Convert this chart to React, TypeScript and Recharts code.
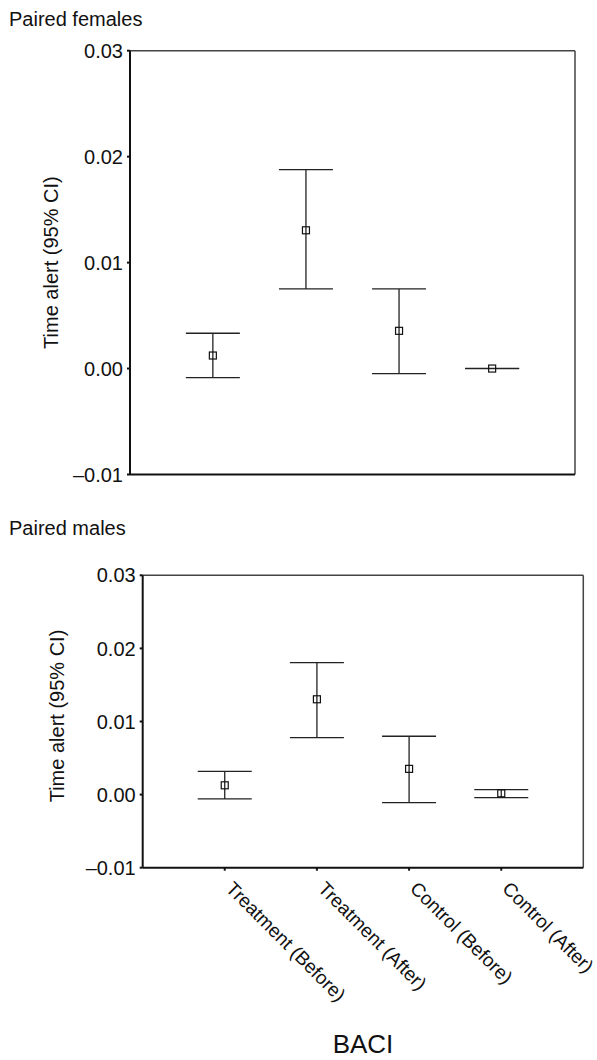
import React from 'react';
import { ComposedChart, Scatter, ErrorBar, XAxis, YAxis, ReferenceLine } from 'recharts';

const categories = ['Treatment (Before)', 'Treatment (After)', 'Control (Before)', 'Control (After)'];
const categoryPositions = [1, 2, 3, 4];
const yTicks = [-0.01, 0, 0.01, 0.02, 0.03];

const femalesMean = [0.00123, 0.01305, 0.00356, 0.0];
const femalesLower = [-0.00085, 0.00752, -0.00047, -0.00001];
const femalesUpper = [0.00333, 0.01877, 0.00752, 0.00001];

const malesMean = [0.00127, 0.01304, 0.00352, 0.00018];
const malesLower = [-0.00059, 0.0078, -0.00109, -0.00041];
const malesUpper = [0.00319, 0.01806, 0.00798, 0.00068];

const FONT = '"Liberation Sans", Arial, Helvetica, sans-serif';
const X_DOMAIN: [number, number] = [0.11, 4.89];
const Y_DOMAIN: [number, number] = [-0.01, 0.03];

const buildRows = (mean: number[], lower: number[], upper: number[]) =>
  categoryPositions.map((x, i) => ({
    x,
    y: mean[i],
    err: [mean[i] - lower[i], upper[i] - mean[i]],
  }));

const femalesRows = buildRows(femalesMean, femalesLower, femalesUpper);
const malesRows = buildRows(malesMean, malesLower, malesUpper);

const fmtY = (v: number) => {
  if (Math.abs(v) < 1e-9) return '0.00';
  if (v < 0) return '\u2013' + Math.abs(v).toFixed(2);
  return v.toFixed(2);
};

const Square = (props: any) => {
  const { cx, cy } = props;
  if (cx == null || cy == null) return null;
  return <rect x={cx - 3.5} y={cy - 3.5} width={7} height={7} fill="none" stroke="#111" strokeWidth={1.2} />;
};

const RotatedTick = (props: any) => {
  const { x, y, payload } = props;
  const label = categories[Math.round(payload.value) - 1];
  const ty = y + 17;
  return (
    <text
      x={x}
      y={ty}
      transform={`rotate(45 ${x} ${ty})`}
      textAnchor="start"
      fontSize={19}
      fontFamily={FONT}
      fill="#111"
    >
      {label}
    </text>
  );
};

type PanelProps = {
  rows: any[];
  height: number;
  margin: { top: number; right: number; bottom: number; left: number };
  yWidth: number;
  showLabels: boolean;
};

const Panel = ({ rows, height, margin, yWidth, showLabels }: PanelProps) => (
  <ComposedChart width={597} height={height} data={rows} margin={margin}>
    <XAxis
      type="number"
      dataKey="x"
      domain={X_DOMAIN}
      ticks={categoryPositions}
      tickSize={3}
      tickMargin={2}
      height={20}
      axisLine={{ stroke: '#111', strokeWidth: 2 }}
      tickLine={{ stroke: '#111', strokeWidth: 2 }}
      tick={showLabels ? <RotatedTick /> : false}
      interval={0}
    />
    <YAxis
      type="number"
      dataKey="y"
      domain={Y_DOMAIN}
      ticks={yTicks}
      tickFormatter={fmtY}
      width={yWidth}
      tickSize={3}
      tickMargin={4}
      interval={0}
      axisLine={{ stroke: '#111', strokeWidth: 2 }}
      tickLine={{ stroke: '#111', strokeWidth: 2 }}
      tick={{ fontSize: 20, fontFamily: FONT, fill: '#111' }}
    />
    <ReferenceLine y={Y_DOMAIN[1]} stroke="#444" strokeWidth={1.5} />
    <ReferenceLine x={X_DOMAIN[1]} stroke="#444" strokeWidth={1.5} />
    <Scatter data={rows} dataKey="y" shape={<Square />} isAnimationActive={false}>
      <ErrorBar dataKey="err" direction="y" width={27} stroke="#222" strokeWidth={1.3} isAnimationActive={false} />
    </Scatter>
  </ComposedChart>
);

export default function App() {
  return (
    <div style={{ position: 'absolute', left: 0, top: 0, width: 597, height: 1060, background: '#fff', fontFamily: FONT }}>
      <div style={{ position: 'absolute', left: 0, top: 0 }}>
        <Panel
          rows={femalesRows}
          height={500}
          margin={{ top: 50.7, right: 22, bottom: 5.5, left: 0 }}
          yWidth={130}
          showLabels={false}
        />
      </div>
      <div style={{ position: 'absolute', left: 0, top: 500 }}>
        <Panel
          rows={malesRows}
          height={560}
          margin={{ top: 75.3, right: 13.7, bottom: 172.3, left: 0 }}
          yWidth={142.7}
          showLabels={true}
        />
      </div>
      <svg width={597} height={1060} style={{ position: 'absolute', left: 0, top: 0, pointerEvents: 'none' }}>
        <g fontFamily={FONT} fill="#111">
          <text x={9} y={26} fontSize={20}>Paired females</text>
          <text x={9} y={535} fontSize={20}>Paired males</text>
          <text x={58.5} y={262.6} fontSize={20} textAnchor="middle" transform="rotate(-90 58.5 262.6)">
            Time alert (95% CI)
          </text>
          <text x={64} y={716} fontSize={20} textAnchor="middle" transform="rotate(-90 64 716)">
            Time alert (95% CI)
          </text>
          <text x={363} y={1053} fontSize={26} textAnchor="middle">BACI</text>
        </g>
      </svg>
    </div>
  );
}
